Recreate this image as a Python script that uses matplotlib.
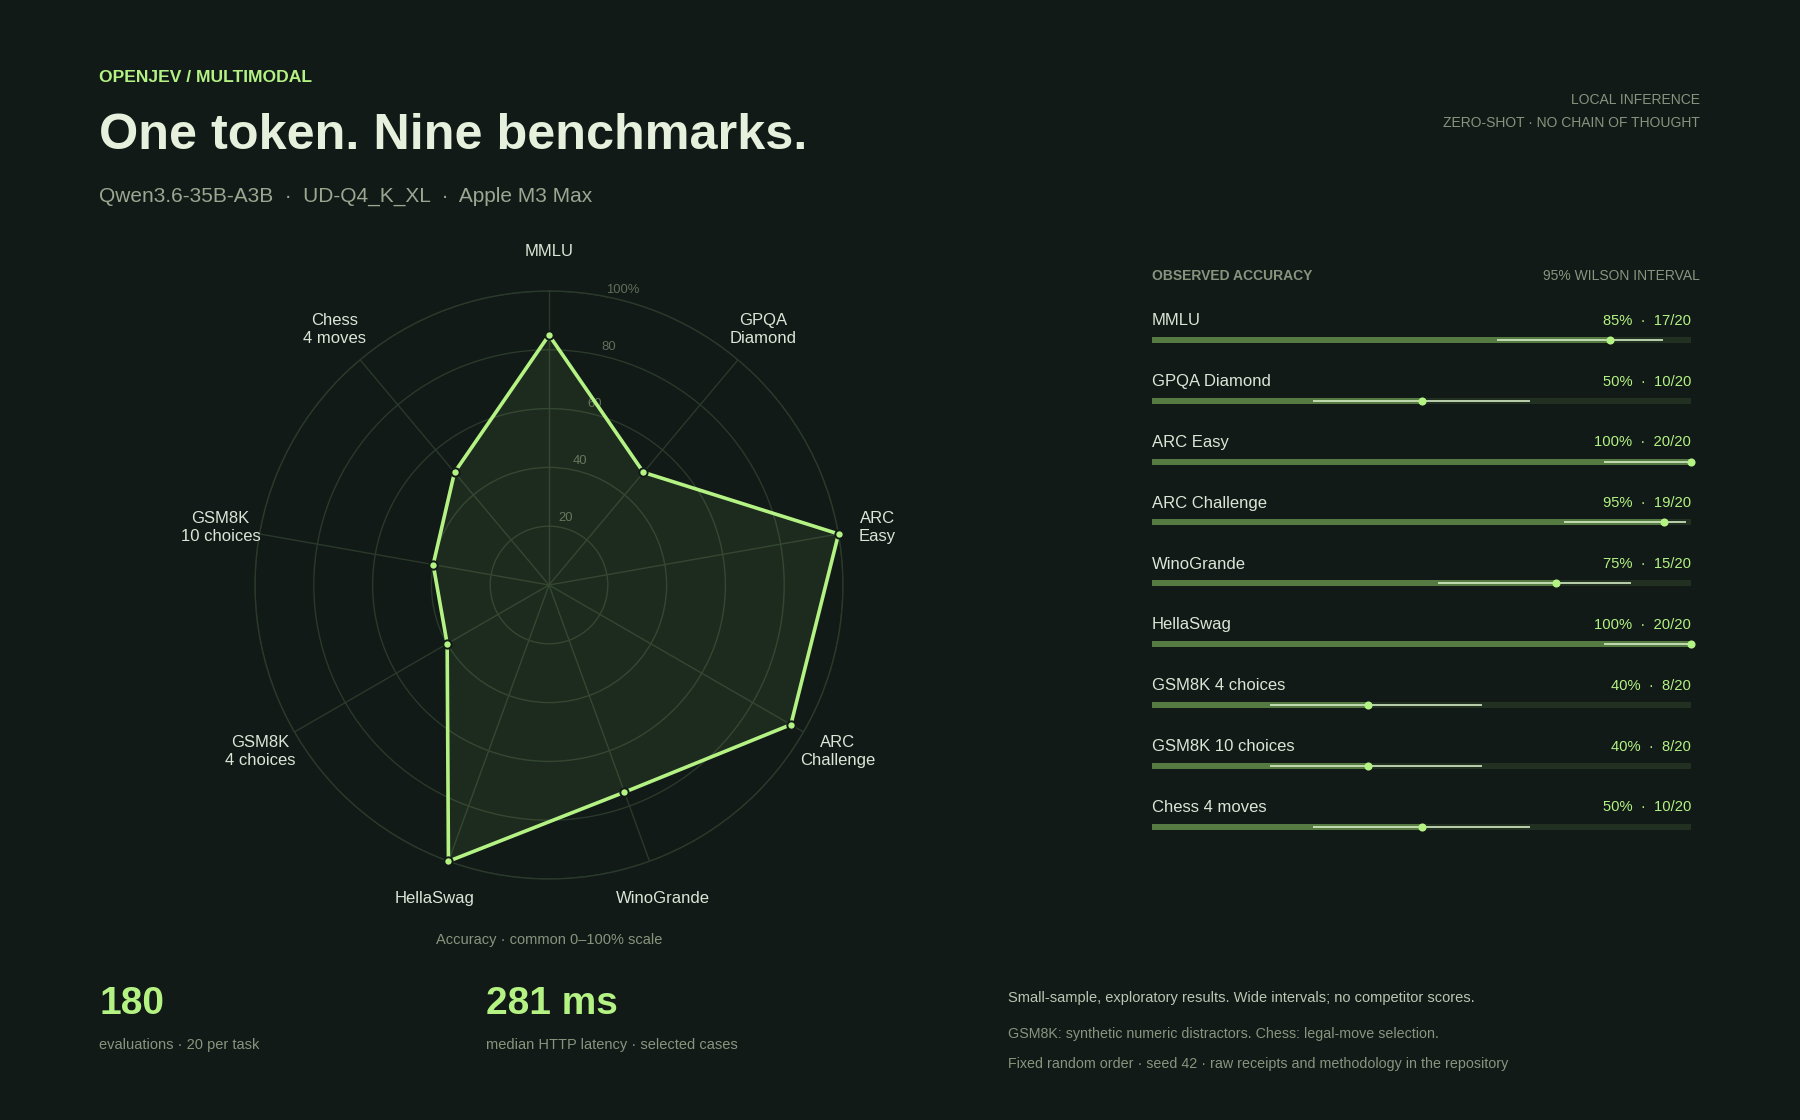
import numpy as np
import matplotlib
matplotlib.use("Agg")
import matplotlib.pyplot as plt

plt.rcParams['font.family'] = ['Liberation Sans', 'DejaVu Sans']

# data
tasks = ["MMLU", "GPQA Diamond", "ARC Easy", "ARC Challenge", "WinoGrande",
         "HellaSwag", "GSM8K 4 choices", "GSM8K 10 choices", "Chess 4 moves"]
radar_labels = ["MMLU", "GPQA\nDiamond", "ARC\nEasy", "ARC\nChallenge", "WinoGrande",
                "HellaSwag", "GSM8K\n4 choices", "GSM8K\n10 choices", "Chess\n4 moves"]
correct = [17, 10, 20, 19, 15, 20, 8, 8, 10]
n_per_task = [20, 20, 20, 20, 20, 20, 20, 20, 20]
accuracy = [85, 50, 100, 95, 75, 100, 40, 40, 50]
# 95% Wilson interval bounds (percent)
ci_low = [64.0, 29.9, 83.9, 76.4, 53.1, 83.9, 21.9, 21.9, 29.9]
ci_high = [94.8, 70.1, 100.0, 99.1, 88.8, 100.0, 61.3, 61.3, 70.1]
ring_ticks = [20, 40, 60, 80, 100]
ring_labels = ["20", "40", "60", "80", "100%"]

# colours
BG = "#111a16"
LIME = "#b4f284"
TITLE = "#e6f0dc"
SUB = "#9aa892"
DIM = "#87957f"
LABEL = "#dce5d6"
GRID = "#2a392b"
BAR = "#557a42"
TRACK = "#213021"
CI = "#d5ebc4"

W, H = 1800, 1120
fig = plt.figure(figsize=(W / 100, H / 100), dpi=100, facecolor=BG)


def ftext(x, y, s, **kw):
    fig.text(x / W, 1 - y / H, s, **kw)


def px_axes(x0, y0, x1, y1, **kw):
    return fig.add_axes([x0 / W, 1 - y1 / H, (x1 - x0) / W, (y1 - y0) / H], **kw)


# header
ftext(99, 78, "OPENJEV / MULTIMODAL", color=LIME, fontsize=12.6, fontweight="bold", va="center")
ftext(99, 136, "One token. Nine benchmarks.", color=TITLE, fontsize=36.3, fontweight="bold", va="center")
ftext(99, 196, "Qwen3.6-35B-A3B  \u00b7  UD-Q4_K_XL  \u00b7  Apple M3 Max", color=SUB, fontsize=15, va="center")
ftext(1700, 100, "LOCAL INFERENCE", color=DIM, fontsize=10, ha="right", va="center")
ftext(1700, 123, "ZERO-SHOT \u00b7 NO CHAIN OF THOUGHT", color=DIM, fontsize=10, ha="right", va="center")

# radar
cx, cy, R = 549, 585, 294
ax = px_axes(cx - R, cy - R, cx + R, cy + R, projection="polar")
ax.set_facecolor(BG)
ax.set_theta_zero_location("N")
ax.set_theta_direction(-1)
ax.set_ylim(0, 100)
theta = np.linspace(0, 2 * np.pi, len(tasks), endpoint=False)
ax.set_xticks(theta)
ax.set_xticklabels([])
ax.set_yticks(ring_ticks)
ax.set_yticklabels([])
ax.grid(color=GRID, linewidth=1.0)
ax.spines["polar"].set_color(GRID)
ax.spines["polar"].set_linewidth(1.0)

th_closed = np.append(theta, theta[0])
acc_closed = np.append(accuracy, accuracy[0])
ax.fill(th_closed, acc_closed, color=LIME, alpha=0.08, zorder=2)
ax.plot(th_closed, acc_closed, color=LIME, linewidth=2.6, zorder=3, clip_on=False)
ax.plot(theta, accuracy, "o", color=LIME, markersize=6, markeredgecolor=BG,
        markeredgewidth=1.4, zorder=4, clip_on=False)

for t, lab in zip(theta, radar_labels):
    ax.text(t, 113.5, lab, color=LABEL, fontsize=12, ha="center", va="center",
            linespacing=1.25, clip_on=False)
for v, lab in zip(ring_ticks, ring_labels):
    ax.text(np.deg2rad(14), v + 3.5, lab, color="#5f6e5b", fontsize=9.4,
            ha="center", va="center", zorder=1)

ftext(549, 940, "Accuracy \u00b7 common 0\u2013100% scale", color=DIM, fontsize=10.5, ha="center", va="center")

# accuracy bars
ftext(1152, 276, "OBSERVED ACCURACY", color=DIM, fontsize=10, fontweight="bold", va="center")
ftext(1700, 276, "95% WILSON INTERVAL", color=DIM, fontsize=10, ha="right", va="center")

row_h = 60.85
bx = px_axes(1152, 300, 1691, 300 + row_h * len(tasks))
bx.set_xlim(0, 100)
bx.set_ylim(len(tasks), 0)
bx.axis("off")
rows = np.arange(len(tasks))
bar_y = rows + 0.655
bx.barh(bar_y, [100] * len(tasks), height=0.1, color=TRACK, left=0)
bx.barh(bar_y, accuracy, height=0.1, color=BAR, left=0)
bx.hlines(bar_y, ci_low, ci_high, color=CI, linewidth=1.2)
bx.scatter(accuracy, bar_y, s=34, color=LIME, zorder=4, clip_on=False, linewidths=0)
for i, name in enumerate(tasks):
    bx.text(0, i + 0.34, name, color=LABEL, fontsize=12, ha="left", va="center")
    bx.text(100, i + 0.34, f"{accuracy[i]}%  \u00b7  {correct[i]}/{n_per_task[i]}",
            color=LIME, fontsize=10.6, ha="right", va="center")

# footer stats
ftext(99, 1004, f"{sum(n_per_task)}", color=LIME, fontsize=28, fontweight="bold", va="center")
ftext(99, 1045, "evaluations \u00b7 20 per task", color=DIM, fontsize=10.5, va="center")
ftext(486, 1004, "281 ms", color=LIME, fontsize=28, fontweight="bold", va="center")
ftext(486, 1045, "median HTTP latency \u00b7 selected cases", color=DIM, fontsize=10.5, va="center")

ftext(1008, 998, "Small-sample, exploratory results. Wide intervals; no competitor scores.",
      color="#bac7b3", fontsize=10.5, va="center")
ftext(1008, 1034, "GSM8K: synthetic numeric distractors. Chess: legal-move selection.",
      color=DIM, fontsize=10.25, va="center")
ftext(1008, 1064, "Fixed random order \u00b7 seed 42 \u00b7 raw receipts and methodology in the repository",
      color=DIM, fontsize=10.25, va="center")

fig.savefig("out.png", dpi=100, facecolor=BG)
